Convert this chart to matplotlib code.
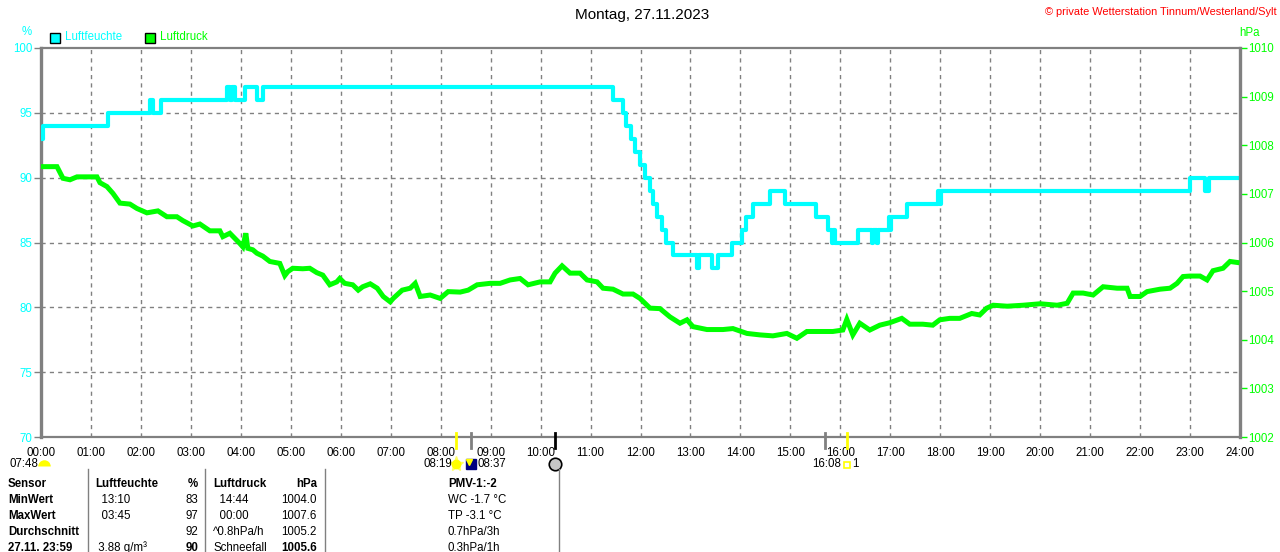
import matplotlib
matplotlib.use('Agg')
import matplotlib.pyplot as plt
import matplotlib.transforms as mtransforms
from matplotlib.lines import Line2D
from matplotlib.patches import Rectangle

plt.rcParams['font.family'] = ['Liberation Sans', 'DejaVu Sans']

# ---------------- data ----------------
title = "Montag, 27.11.2023"
copyright_text = "© private Wetterstation Tinnum/Westerland/Sylt"
hour_labels = ["%02d:00" % h for h in range(25)]

hum_t = [0.00, 0.04, 1.34, 2.18, 2.24, 2.40, 3.72, 3.78, 3.82, 3.88, 4.08, 4.32, 4.44,
         11.44, 11.64, 11.70, 11.81, 11.88, 11.98, 12.10, 12.19, 12.26, 12.34, 12.44,
         12.52, 12.66, 13.14, 13.18, 13.44, 13.56, 13.84, 14.04, 14.12, 14.25, 14.59,
         14.89, 15.51, 15.76, 15.84, 15.86, 15.89, 16.35, 16.63, 16.66, 16.74, 16.76,
         16.97, 17.00, 17.02, 17.33, 17.96, 17.99, 18.02, 23.00, 23.30, 23.38, 24.00]
hum_v = [93, 94, 95, 96, 95, 96, 97, 96, 97, 96, 97, 96, 97,
         96, 95, 94, 93, 92, 91, 90, 89, 88, 87, 86,
         85, 84, 83, 84, 83, 84, 85, 86, 87, 88, 89,
         88, 87, 86, 85, 86, 85, 86, 85, 86, 85, 86,
         87, 86, 87, 88, 89, 88, 89, 90, 89, 90, 90]

pres_t = [0.00, 0.32, 0.44, 0.58, 0.72, 1.12, 1.18, 1.32, 1.44, 1.58, 1.78, 1.92, 2.12,
          2.34, 2.52, 2.72, 2.84, 3.04, 3.18, 3.38, 3.58, 3.64, 3.78, 3.98, 4.04, 4.10,
          4.14, 4.24, 4.32, 4.44, 4.58, 4.78, 4.88, 4.94, 5.04, 5.24, 5.38, 5.52, 5.64,
          5.78, 5.92, 5.98, 6.08, 6.24, 6.35, 6.44, 6.59, 6.73, 6.85, 6.99, 7.05, 7.23,
          7.39, 7.49, 7.59, 7.79, 7.99, 8.15, 8.39, 8.55, 8.73, 8.99, 9.19, 9.39, 9.59,
          9.75, 9.99, 10.19, 10.29, 10.43, 10.59, 10.79, 10.93, 11.13, 11.25, 11.45,
          11.65, 11.85, 11.99, 12.19, 12.39, 12.59, 12.79, 12.93, 13.05, 13.33, 13.65,
          13.85, 14.13, 14.39, 14.65, 14.93, 15.13, 15.33, 15.65, 15.85, 16.05, 16.13,
          16.25, 16.39, 16.59, 16.79, 16.99, 17.23, 17.39, 17.65, 17.85, 17.99, 18.19,
          18.39, 18.63, 18.79, 18.93, 19.06, 19.34, 19.66, 20.00, 20.34, 20.54, 20.66,
          20.86, 21.06, 21.26, 21.54, 21.74, 21.80, 22.00, 22.14, 22.40, 22.60, 22.74,
          22.86, 23.00, 23.20, 23.34, 23.46, 23.66, 23.80, 23.94]
pres_v = [1007.56, 1007.56, 1007.32, 1007.29, 1007.35, 1007.35, 1007.23, 1007.15, 1007.01,
          1006.81, 1006.79, 1006.70, 1006.61, 1006.65, 1006.53, 1006.53, 1006.45, 1006.34,
          1006.38, 1006.24, 1006.24, 1006.12, 1006.19, 1005.98, 1005.91, 1006.19, 1005.88,
          1005.85, 1005.78, 1005.72, 1005.61, 1005.57, 1005.32, 1005.40, 1005.47, 1005.46,
          1005.47, 1005.38, 1005.33, 1005.13, 1005.19, 1005.26, 1005.16, 1005.13, 1005.02,
          1005.09, 1005.15, 1005.06, 1004.89, 1004.78, 1004.85, 1005.02, 1005.06, 1005.16,
          1004.89, 1004.92, 1004.85, 1004.99, 1004.98, 1005.02, 1005.13, 1005.16, 1005.16,
          1005.23, 1005.26, 1005.13, 1005.19, 1005.19, 1005.37, 1005.52, 1005.37, 1005.37,
          1005.23, 1005.19, 1005.06, 1005.04, 1004.94, 1004.94, 1004.85, 1004.65, 1004.64,
          1004.47, 1004.34, 1004.41, 1004.27, 1004.21, 1004.21, 1004.23, 1004.13, 1004.10,
          1004.08, 1004.13, 1004.03, 1004.17, 1004.17, 1004.17, 1004.20, 1004.42, 1004.10,
          1004.34, 1004.20, 1004.30, 1004.35, 1004.44, 1004.32, 1004.32, 1004.30, 1004.41,
          1004.44, 1004.44, 1004.54, 1004.51, 1004.65, 1004.71, 1004.69, 1004.71, 1004.74,
          1004.71, 1004.75, 1004.96, 1004.96, 1004.92, 1005.09, 1005.06, 1005.06, 1004.89,
          1004.89, 1004.99, 1005.04, 1005.06, 1005.16, 1005.30, 1005.31, 1005.31, 1005.23,
          1005.42, 1005.47, 1005.61, 1005.59]

hum_ticks = [70, 75, 80, 85, 90, 95, 100]
pres_ticks = [1002, 1003, 1004, 1005, 1006, 1007, 1008, 1009, 1010]

event_times = [8 + 19/60, 8 + 37/60, 10 + 17/60, 15 + 41/60, 16 + 8/60]
event_colors = ['#FFFF00', '#808080', '#000000', '#808080', '#FFFF00']

table_rows = [
    ["Sensor", "Luftfeuchte", "%", "Luftdruck", "hPa", "PMV-1:-2"],
    ["MinWert", "  13:10", "83", "  14:44", "1004.0", "WC -1.7 °C"],
    ["MaxWert", "  03:45", "97", "  00:00", "1007.6", "TP -3.1 °C"],
    ["Durchschnitt", "", "92", "^0.8hPa/h", "1005.2", "0.7hPa/3h"],
    ["27.11. 23:59", " 3.88 g/m³", "90", "Schneefall", "1005.6", "0.3hPa/1h"],
]

# ---------------- layout helpers ----------------
W, H = 1280, 552
fig = plt.figure(figsize=(W / 100, H / 100), dpi=100)
fig.patch.set_facecolor('white')


def fx(px):
    return px / W


def fy(py):
    return 1 - py / H


CYAN = '#00FFFF'
GREEN = '#00FF00'
GRAY = '#808080'
FS = 8.3

ax = fig.add_axes([fx(41), fy(437), fx(1240) - fx(41), fy(48) - fy(437)])
ax.set_xlim(0, 24)
ax.set_ylim(70, 100)
ax2 = ax.twinx()
ax2.set_ylim(1002, 1010)

# grid
for h in range(1, 24):
    ax.axvline(h, color=GRAY, lw=1, ls=(0, (3, 3)), zorder=1)
for v in hum_ticks[1:-1]:
    ax.axhline(v, color=GRAY, lw=1, ls=(0, (3, 3)), zorder=1)

ax.step(hum_t, hum_v, where='post', color=CYAN, lw=3.0, zorder=3)
ax2.plot(pres_t, pres_v, color=GREEN, lw=3.6, zorder=3, solid_joinstyle='miter')

# axes styling
ax.set_xticks(range(25))
ax.set_xticklabels(hour_labels)
ax.tick_params(axis='x', length=0, pad=7.5, labelsize=FS, labelcolor='black')
ax.set_yticks(hum_ticks)
ax.set_yticklabels([str(v) for v in hum_ticks])
ax.tick_params(axis='y', length=5, width=1, color=GRAY, labelcolor=CYAN, labelsize=FS, pad=1)
ax2.set_yticks(pres_ticks)
ax2.set_yticklabels([str(v) for v in pres_ticks])
ax2.tick_params(axis='y', length=5, width=1, color=GREEN, labelcolor=GREEN, labelsize=FS, pad=1)

for s in ['left', 'right', 'top', 'bottom']:
    ax.spines[s].set_color(GRAY)
    ax2.spines[s].set_color(GRAY)
ax.spines['left'].set_linewidth(2.4)
ax.spines['top'].set_linewidth(1.6)
ax.spines['bottom'].set_linewidth(1.6)
ax.spines['right'].set_visible(False)
ax2.spines['left'].set_visible(False)
ax2.spines['top'].set_visible(False)
ax2.spines['bottom'].set_visible(False)
ax2.spines['right'].set_linewidth(2.4)

# titles and labels
fig.text(fx(642), fy(15), title, ha='center', va='center', fontsize=11)
fig.text(fx(1277), fy(12), copyright_text, ha='right', va='center', fontsize=7.9, color='#FF0000')
fig.text(fx(27), fy(32), "%", ha='center', va='center', fontsize=FS, color=CYAN)
fig.text(fx(1250), fy(33), "hPa", ha='center', va='center', fontsize=FS, color=GREEN)

# legend
fig.add_artist(Rectangle((fx(50), fy(43)), fx(10), 10 / H, transform=fig.transFigure,
                         facecolor=CYAN, edgecolor='black', lw=1))
fig.text(fx(65), fy(37.5), "Luftfeuchte", ha='left', va='center', fontsize=FS, color=CYAN)
fig.add_artist(Rectangle((fx(145), fy(43)), fx(10), 10 / H, transform=fig.transFigure,
                         facecolor=GREEN, edgecolor='black', lw=1))
fig.text(fx(160), fy(37.5), "Luftdruck", ha='left', va='center', fontsize=FS, color=GREEN)

# event ticks on the time axis
blend = mtransforms.blended_transform_factory(ax.transData, fig.transFigure)
for t, c in zip(event_times, event_colors):
    fig.add_artist(Line2D([t, t], [fy(433), fy(448)], transform=blend, color=c, lw=2))

# icons row
ty = fy(464)
fig.text(fx(38), ty, "07:48", ha='right', va='center', fontsize=FS)
fig.add_artist(Line2D([fx(44)], [fy(466)], transform=fig.transFigure,
                      marker=matplotlib.markers.MarkerStyle('o', fillstyle='top'),
                      ms=9, markerfacecolor='#FFFF00', markeredgecolor='#FFFF00',
                      markerfacecoloralt='none', markeredgewidth=0, lw=0))
fig.text(fx(452), ty, "08:19", ha='right', va='center', fontsize=FS)
fig.add_artist(Line2D([event_times[0]], [ty], transform=blend, marker='*', ms=11, color='#FFFF66', lw=0))
fig.add_artist(Line2D([event_times[0]], [ty], transform=blend, marker='o', ms=6, color='#FFFF00', lw=0))
fig.add_artist(Line2D([event_times[1]], [ty], transform=blend, marker='s', ms=7, color='#000080', lw=0))
fig.add_artist(Line2D([event_times[1] - 0.05], [fy(462)], transform=blend, marker='v', ms=4, color='#FFFF00', lw=0))
fig.text(fx(477), ty, "08:37", ha='left', va='center', fontsize=FS)
fig.add_artist(Line2D([event_times[2]], [ty], transform=blend, marker='o', ms=9,
                      markerfacecolor='#C8C8C8', markeredgecolor='black', markeredgewidth=1.2, lw=0))
fig.text(fx(841), ty, "16:08", ha='right', va='center', fontsize=FS)
fig.add_artist(Line2D([event_times[4]], [fy(465)], transform=blend, marker='s', ms=5,
                      markerfacecolor='white', markeredgecolor='#FFFF00', markeredgewidth=1.2, lw=0))
fig.text(fx(852), ty, "1", ha='left', va='center', fontsize=FS)

# table separators
for sx in [88, 205, 325, 559]:
    fig.add_artist(Line2D([fx(sx), fx(sx)], [fy(469), fy(552)], transform=fig.transFigure, color=GRAY, lw=1))

row_y = [484, 500, 516, 532, 548]
for i, row in enumerate(table_rows):
    y = fy(row_y[i])
    head = (i == 0)
    last = (i == len(table_rows) - 1)
    fig.text(fx(8), y, row[0], ha='left', va='center', fontsize=FS, fontweight='bold')
    fig.text(fx(95), y, row[1], ha='left', va='center', fontsize=FS, fontweight='bold' if head else 'normal')
    fig.text(fx(198), y, row[2], ha='right', va='center', fontsize=FS, fontweight='bold' if (head or last) else 'normal')
    fig.text(fx(213), y, row[3], ha='left', va='center', fontsize=FS, fontweight='bold' if head else 'normal')
    fig.text(fx(317), y, row[4], ha='right', va='center', fontsize=FS, fontweight='bold' if (head or last) else 'normal')
    fig.text(fx(448), y, row[5], ha='left', va='center', fontsize=FS, fontweight='bold' if head else 'normal')

fig.savefig('out.png', dpi=100)
